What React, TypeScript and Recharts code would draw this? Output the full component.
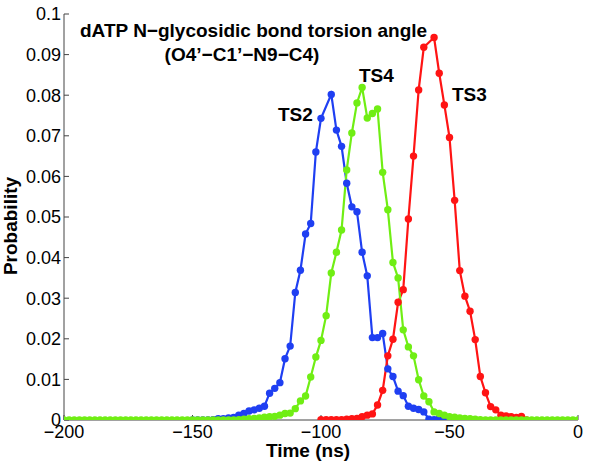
import React from "react";
import { LineChart, Line, XAxis, YAxis } from "recharts";

// dATP torsion angle distributions (TS2 / TS4 / TS3)
const xTicks = [-200, -150, -100, -50, 0];
const yTicks = [0, 0.01, 0.02, 0.03, 0.04, 0.05, 0.06, 0.07, 0.08, 0.09, 0.1];

const ts2Time = [
  -150, -148, -146, -144, -142, -140, -138, -136, -134, -132, -130, -128, -126,
  -124, -122, -120, -118, -116, -114, -112, -110, -108, -106, -104, -102, -100,
  -96, -94, -92, -90, -88, -86, -84, -82, -80, -78, -76, -74, -72, -70, -68,
  -66, -64, -62, -60, -58, -56, -54, -52, -50, -48, -46, -44, -42, -40,
];
const ts2Prob = [
  0, 0, 0, 0, 0.0001, 0.0003, 0.0003, 0.0005, 0.0006, 0.0012, 0.0016, 0.0022, 0.0025,
  0.0029, 0.0034, 0.0066, 0.0078, 0.0092, 0.0151, 0.0182, 0.0314, 0.0369, 0.0458, 0.0484, 0.066, 0.0743,
  0.0802, 0.0714, 0.0674, 0.0583, 0.0525, 0.0513, 0.0413, 0.0355, 0.0203, 0.0203, 0.0213, 0.0126, 0.0107, 0.0071, 0.006,
  0.0034, 0.0029, 0.0026, 0.002, 0.0002, 0.0001, 0.0004, 0.0002, 0.0001, 0, 0, 0, 0, 0,
];

const ts3Time = [
  -100, -98, -96, -94, -92, -90, -88, -86, -84, -82, -80, -78, -76, -74, -72,
  -70, -68, -66, -64, -62, -60, -56, -54, -52, -50, -48, -46, -44, -42, -40,
  -38, -36, -34, -32, -30, -28, -26, -24, -22, -20,
];
const ts3Prob = [
  0.0001, 0.0001, 0.0001, 0.0001, 0.0001, 0.0002, 0.0003, 0.0004, 0.0008, 0.0012, 0.0015, 0.0037, 0.0073, 0.0158, 0.0199,
  0.029, 0.0321, 0.0495, 0.065, 0.0813, 0.0918, 0.0942, 0.0854, 0.0776, 0.0696, 0.0541, 0.0368, 0.0305, 0.0268, 0.0198,
  0.0107, 0.0067, 0.0033, 0.0025, 0.0012, 0.001, 0.0008, 0.0006, 0.0009, 0,
];

const ts4Time = [
  -200, -198, -196, -194, -192, -190, -188, -186, -184, -182, -180, -178, -176, -174, -172, -170, -168,
  -166, -164, -162, -160, -158, -156, -154, -152, -150, -148, -146, -144, -142, -140, -138, -136, -134,
  -132, -130, -128, -126, -124, -122, -120, -118, -116, -114, -112, -110, -108, -106, -104, -102, -100,
  -98, -96, -94, -92, -90, -88, -86, -84, -82, -80, -78, -76, -74, -72, -70, -68, -66, -64, -62, -60,
  -58, -56, -54, -52, -50, -48, -46, -44, -42, -40, -38, -36, -34, -32, -30, -28, -26, -24, -22, -20,
  -18, -16, -14, -12, -10, -8, -6, -4, -2, 0,
];
const ts4Prob = [
  0, 0, 0, 0, 0, 0, 0, 0, 0, 0, 0, 0, 0, 0, 0, 0, 0,
  0, 0, 0, 0, 0, 0, 0, 0, 0, 0, 0, 0, 0, 0, 0, 0, 0,
  0.0001, 0.0002, 0.0003, 0.0004, 0.0005, 0.0007, 0.0008, 0.0009, 0.0012, 0.0016, 0.0017, 0.0028, 0.0047, 0.0059, 0.0106, 0.0155, 0.0196,
  0.0257, 0.0362, 0.0413, 0.0468, 0.0616, 0.0707, 0.0781, 0.0819, 0.0744, 0.0755, 0.0766, 0.061, 0.0518, 0.0388, 0.035, 0.0222, 0.018, 0.0158, 0.0099, 0.0059,
  0.0045, 0.002, 0.0016, 0.0012, 0.0008, 0.0007, 0.0005, 0.0004, 0.0003, 0.0002, 0.0001, 0, 0, 0, 0, 0, 0, 0, 0, 0,
  0, 0, 0, 0, 0, 0, 0, 0, 0, 0,
];

const rows = (t: number[], p: number[]) => t.map((v, i) => ({ t: v, p: p[i] }));

const BLUE = "#1f3ff2";
const RED = "#ff1414";
const GREEN = "#70ee14";
const AXIS = "#444";
const FONT = "'Liberation Sans', Arial, sans-serif";

const fmtX = (v: number) => (v < 0 ? "\u2212" + Math.abs(v) : String(v));

const dot = (c: string) => ({ r: 3.7, fill: c, stroke: c, strokeWidth: 0 });

export default function App() {
  return (
    <div style={{ position: "absolute", left: 0, top: 0, width: 600, height: 467, background: "#fff" }}>
      <LineChart
        width={600}
        height={467}
        margin={{ top: 14, right: 22, bottom: 17, left: 4 }}
        style={{ fontFamily: FONT }}
      >
        <XAxis
          xAxisId="b"
          type="number"
          dataKey="t"
          domain={[-200, 0]}
          ticks={xTicks}
          interval={0}
          tickFormatter={fmtX}
          tickSize={-5}
          tickMargin={10}
          height={30}
          stroke={AXIS}
          tick={{ fill: "#000", fontSize: 18 }}
          allowDataOverflow
        />
        <XAxis
          xAxisId="top"
          orientation="top"
          type="number"
          dataKey="t"
          domain={[-200, 0]}
          ticks={xTicks}
          interval={0}
          tick={false}
          tickSize={-5}
          height={0}
          stroke={AXIS}
        />
        <YAxis
          yAxisId="l"
          type="number"
          domain={[0, 0.1]}
          ticks={yTicks}
          interval={0}
          tickSize={-5}
          tickMargin={8}
          width={60}
          stroke={AXIS}
          tick={{ fill: "#000", fontSize: 18 }}
          allowDataOverflow
        />
        <YAxis
          yAxisId="r"
          orientation="right"
          type="number"
          domain={[0, 0.1]}
          ticks={yTicks}
          interval={0}
          tick={false}
          tickSize={-5}
          width={0}
          stroke={AXIS}
        />
        <Line
          xAxisId="b"
          yAxisId="l"
          data={rows(ts2Time, ts2Prob)}
          dataKey="p"
          stroke={BLUE}
          strokeWidth={2.2}
          dot={dot(BLUE)}
          activeDot={false}
          isAnimationActive={false}
        />
        <Line
          xAxisId="b"
          yAxisId="l"
          data={rows(ts3Time, ts3Prob)}
          dataKey="p"
          stroke={RED}
          strokeWidth={2.2}
          dot={dot(RED)}
          activeDot={false}
          isAnimationActive={false}
        />
        <Line
          xAxisId="b"
          yAxisId="l"
          data={rows(ts4Time, ts4Prob)}
          dataKey="p"
          stroke={GREEN}
          strokeWidth={2.2}
          dot={dot(GREEN)}
          activeDot={false}
          isAnimationActive={false}
        />
      </LineChart>
      <svg
        width={600}
        height={467}
        style={{ position: "absolute", left: 0, top: 0, pointerEvents: "none", fontFamily: FONT }}
      >
        <g fontWeight="bold" fontSize={19} fill="#000">
          <text x={80} y={37}>dATP N{"\u2212"}glycosidic bond torsion angle</text>
          <text x={242} y={61} textAnchor="middle">(O4’{"\u2212"}C1’{"\u2212"}N9{"\u2212"}C4)</text>
          <text x={278} y={121}>TS2</text>
          <text x={359} y={82}>TS4</text>
          <text x={452} y={101}>TS3</text>
          <text x={308} y={457} textAnchor="middle">Time (ns)</text>
          <text transform="translate(17,226) rotate(-90)" textAnchor="middle">Probability</text>
        </g>
      </svg>
    </div>
  );
}
